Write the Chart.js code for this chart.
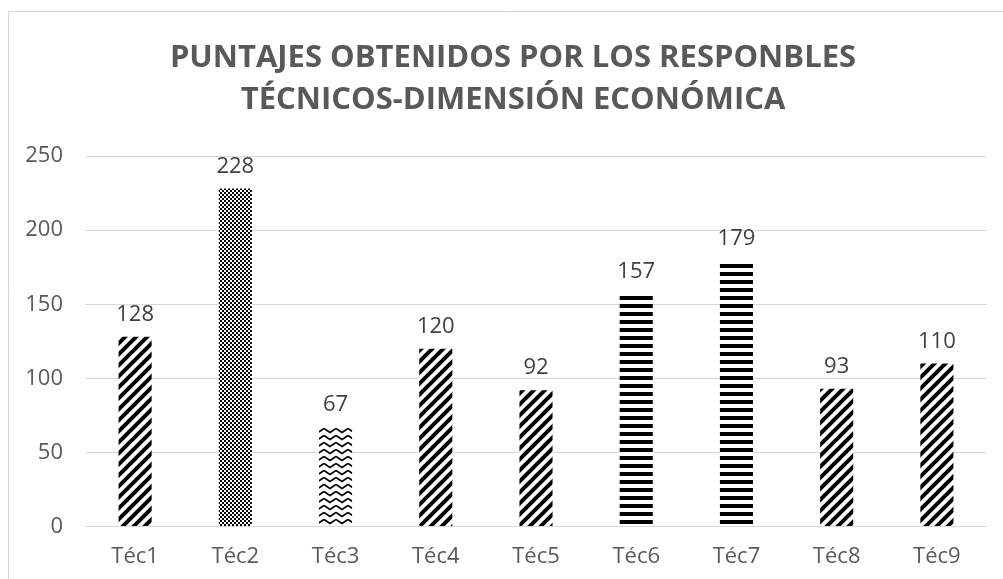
<!DOCTYPE html>
<html>
<head>
<meta charset="utf-8">
<script src="https://cdn.jsdelivr.net/npm/chart.js@4.4.1/dist/chart.umd.min.js"></script>
<style>
html,body{margin:0;padding:0;background:#fff;}
#wrap{position:relative;width:1003px;height:579px;}
</style>
</head>
<body>
<div id="wrap"><canvas id="c" width="1003" height="579"></canvas></div>
<script>
const categories = ["Téc1","Téc2","Téc3","Téc4","Téc5","Téc6","Téc7","Téc8","Téc9"];
const values = [128, 228, 67, 120, 92, 157, 179, 93, 110];
const yTicks = [0, 50, 100, 150, 200, 250];
const titleLines = ["PUNTAJES OBTENIDOS POR LOS RESPONBLES", "TÉCNICOS-DIMENSIÓN ECONÓMICA"];
const patternKinds = ["diag","checker","zigzag","diag","diag","hstripe","hstripe","diag","diag"];

function makePattern(kind){
  const c = document.createElement('canvas');
  const g = c.getContext('2d');
  if(kind === 'diag'){
    c.width = 11; c.height = 11;
    g.fillStyle = '#fff'; g.fillRect(0,0,11,11);
    g.strokeStyle = '#000'; g.lineWidth = 4; g.lineCap = 'square';
    g.beginPath();
    g.moveTo(-2,13); g.lineTo(13,-2);
    g.moveTo(-13,13); g.lineTo(2,-2);
    g.moveTo(9,13); g.lineTo(24,-2);
    g.stroke();
  } else if(kind === 'checker'){
    c.width = 4; c.height = 4;
    g.fillStyle = '#fff'; g.fillRect(0,0,4,4);
    g.fillStyle = '#000';
    g.fillRect(0,0,2,2); g.fillRect(2,2,2,2);
  } else if(kind === 'zigzag'){
    c.width = 12; c.height = 7;
    g.fillStyle = '#fff'; g.fillRect(0,0,12,7);
    g.strokeStyle = '#000'; g.lineWidth = 1.6;
    g.beginPath();
    g.moveTo(0,1.5); g.lineTo(6,5.5); g.lineTo(12,1.5);
    g.stroke();
  } else {
    c.width = 8; c.height = 8;
    g.fillStyle = '#fff'; g.fillRect(0,0,8,8);
    g.fillStyle = '#000'; g.fillRect(0,0,8,4);
  }
  const ctx = document.getElementById('c').getContext('2d');
  return ctx.createPattern(c, 'repeat');
}
const fills = patternKinds.map(makePattern);

const frame = {
  id: 'frame',
  beforeDraw(chart){
    const ctx = chart.ctx;
    ctx.save();
    ctx.strokeStyle = '#d9d9d9';
    ctx.lineWidth = 1;
    ctx.beginPath();
    ctx.moveTo(8.5, 600); ctx.lineTo(8.5, 11.5); ctx.lineTo(1003, 11.5);
    ctx.stroke();
    ctx.font = 'bold 31px "Open Sans"';
    ctx.fillStyle = '#595959';
    ctx.textAlign = 'center';
    ctx.textBaseline = 'middle';
    ctx.fillText(titleLines[0], 513, 58);
    ctx.fillText(titleLines[1], 513, 100);
    ctx.restore();
  }
};

const labels = {
  id: 'valueLabels',
  afterDatasetsDraw(chart){
    const ctx = chart.ctx;
    const meta = chart.getDatasetMeta(0);
    ctx.save();
    ctx.font = '22px "Open Sans"';
    ctx.fillStyle = '#404040';
    ctx.textAlign = 'center';
    ctx.textBaseline = 'alphabetic';
    meta.data.forEach((el, i) => {
      ctx.fillText(String(chart.data.datasets[0].data[i]), el.x, el.y - 16);
    });
    ctx.restore();
  }
};

new Chart(document.getElementById('c'), {
  type: 'bar',
  data: {
    labels: categories,
    datasets: [{
      data: values,
      backgroundColor: fills,
      borderWidth: 0,
      barPercentage: 0.33,
      categoryPercentage: 1.0
    }]
  },
  options: {
    responsive: false,
    animation: false,
    layout: { padding: { left: 0, right: 16, top: 156, bottom: -8 } },
    plugins: {
      legend: { display: false },
      tooltip: { enabled: false },
      title: { display: false }
    },
    scales: {
      x: {
        grid: { display: false, drawTicks: false },
        border: { display: false },
        ticks: { color: '#595959', font: { family: '"Open Sans"', size: 22, lineHeight: 1.2 }, padding: 17 }
      },
      y: {
        min: 0, max: 250,
        afterBuildTicks(s){ s.ticks = yTicks.map(v => ({ value: v })); },
        afterFit(s){ s.width = 85; },
        grid: { color: '#d9d9d9', lineWidth: 1, drawTicks: false },
        border: { display: false },
        ticks: { color: '#595959', font: { family: '"Open Sans"', size: 22 }, padding: 22 }
      }
    }
  },
  plugins: [frame, labels]
});
</script>
</body>
</html>
